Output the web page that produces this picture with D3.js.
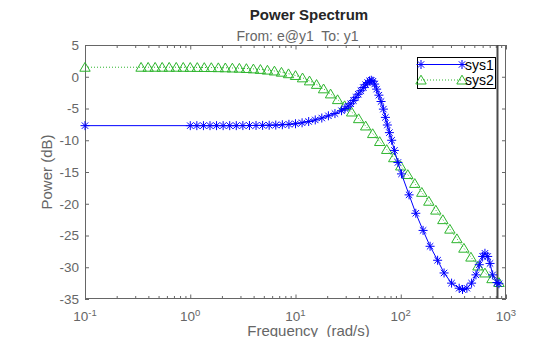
<!DOCTYPE html>
<html><head><meta charset="utf-8">
<script src="https://cdn.jsdelivr.net/npm/d3@7"></script>
<style>body{margin:0;background:#fff}svg{display:block;font-family:"Liberation Sans",Arial,sans-serif}</style>
</head><body><svg id="c" width="560" height="337"></svg>
<script>
// ---- data ----
const freq1 = [0.1, 1.0, 1.155, 1.334, 1.54, 1.778, 2.054, 2.371, 2.738, 3.162, 3.652, 4.217, 4.87, 5.623, 6.494, 7.499, 8.66, 10.0, 11.55, 13.34, 15.4, 17.78, 20.54, 23.71, 27.38, 29.5, 31.62, 33.5, 35.5, 37.5, 39.5, 41.8, 44.1, 46.4, 48.5, 50.5, 52.5, 54.5, 56.5, 59.0, 62.0, 65.0, 68.4, 71.5, 74.6, 78.0, 82.0, 87.0, 94.0, 101.6, 120, 139, 163, 190, 224, 258, 304, 359, 386, 425, 471, 518, 557, 600, 631, 670, 705, 747, 820, 857];
const sys1 = [-7.7, -7.7, -7.7, -7.7, -7.7, -7.7, -7.7, -7.7, -7.7, -7.69, -7.68, -7.67, -7.66, -7.64, -7.61, -7.56, -7.49, -7.4, -7.25, -7.05, -6.8, -6.5, -6.15, -5.8, -5.35, -5.0, -4.65, -4.25, -3.75, -3.25, -2.75, -2.2, -1.7, -1.25, -0.9, -0.65, -0.55, -0.7, -1.15, -1.95, -2.9, -3.9, -5.1, -6.4, -7.6, -8.8, -10.0, -11.6, -13.5, -15.3, -18.6, -21.5, -24.2, -26.7, -28.9, -30.9, -32.5, -33.3, -33.5, -33.3, -32.5, -31.2, -29.6, -28.3, -27.8, -28.3, -29.4, -31.2, -32.4, -32.6];
const freq2 = [0.1, 0.341, 0.398, 0.464, 0.541, 0.631, 0.736, 0.858, 1.0, 1.166, 1.359, 1.585, 1.848, 2.154, 2.512, 2.929, 3.415, 3.981, 4.642, 5.412, 6.31, 7.356, 8.577, 10.0, 11.66, 13.59, 15.85, 18.48, 21.54, 25.12, 29.29, 34.15, 39.81, 46.42, 54.12, 63.1, 73.56, 85.77, 100, 116.6, 135.9, 158.5, 184.8, 215.4, 251.2, 292.9, 341.5, 398.1, 464.2, 541.2, 631, 735.6, 857.7];
const sys2 = [1.5, 1.5, 1.5, 1.5, 1.5, 1.5, 1.5, 1.49, 1.48, 1.47, 1.46, 1.45, 1.43, 1.41, 1.38, 1.35, 1.3, 1.24, 1.16, 1.05, 0.91, 0.72, 0.48, 0.2, -0.17, -0.65, -1.2, -1.9, -2.7, -3.6, -4.55, -5.55, -6.6, -7.75, -8.95, -10.2, -11.45, -12.75, -14.05, -15.4, -16.8, -18.2, -19.6, -21.0, -22.5, -24.0, -25.5, -27.0, -28.4, -29.8, -30.9, -31.8, -32.4];
const seriesNames = ["sys1", "sys2"];
const xMajorTicks = [0.1, 1, 10, 100, 1000];
const xTickExponents = ["-1", "0", "1", "2", "3"];
const yTicks = [5, 0, -5, -10, -15, -20, -25, -30, -35];
const nyquistFreq = 830;
const titleText = "Power Spectrum";
const subtitleText = "From: e@y1  To: y1";
const xLabel = "Frequency  (rad/s)";
const yLabel = "Power (dB)";

// ---- layout ----
const L = 85, R = 506, T = 45, B = 299;
const svg = d3.select("#c");
const x = d3.scaleLog().domain([0.1, 1000]).range([L, R]);
const y = d3.scaleLinear().domain([-35, 5]).range([B, T]);
const axisCol = "#666", textCol = "#666";
const blue = "#0000ff", green = "#2db52d";

svg.append("rect").attr("x", 0).attr("y", 0).attr("width", 560).attr("height", 337).attr("fill", "#fff");
svg.append("rect").attr("x", L).attr("y", T).attr("width", R - L).attr("height", B - T).attr("fill", "#fff");

// minor ticks
const minor = [];
for (let d = -1; d < 3; d++) for (let m = 2; m <= 9; m++) minor.push(m * Math.pow(10, d));

function styleAxis(g) {
  g.select(".domain").remove();
  g.selectAll("line").attr("stroke", axisCol);
  g.selectAll("text").remove();
}
svg.append("g").attr("transform", `translate(0,${B})`).call(d3.axisBottom(x).tickValues(xMajorTicks).tickSize(-4.5)).call(styleAxis);
svg.append("g").attr("transform", `translate(0,${B})`).call(d3.axisBottom(x).tickValues(minor).tickSize(-3)).call(styleAxis);
svg.append("g").attr("transform", `translate(0,${T})`).call(d3.axisTop(x).tickValues(xMajorTicks).tickSize(-4.5)).call(styleAxis);
svg.append("g").attr("transform", `translate(0,${T})`).call(d3.axisTop(x).tickValues(minor).tickSize(-3)).call(styleAxis);
svg.append("g").attr("transform", `translate(${L},0)`).call(d3.axisLeft(y).tickValues(yTicks).tickSize(-4)).call(styleAxis);
svg.append("g").attr("transform", `translate(${R},0)`).call(d3.axisRight(y).tickValues(yTicks).tickSize(-4)).call(styleAxis);

// frame
svg.append("rect").attr("x", L + 0.5).attr("y", T + 0.5).attr("width", R - L - 1).attr("height", B - T - 1)
  .attr("fill", "none").attr("stroke", axisCol).attr("stroke-width", 1);

// y tick labels
svg.append("g").selectAll("text").data(yTicks).join("text")
  .attr("x", L - 6).attr("y", d => y(d)).attr("dy", "0.36em")
  .attr("text-anchor", "end").attr("font-size", 13.5).attr("fill", textCol).text(d => d);

// x tick labels
const xl = svg.append("g").selectAll("text").data(xMajorTicks).join("text")
  .attr("x", (d) => x(d)).attr("y", 321).attr("text-anchor", "middle").attr("font-size", 13.5).attr("fill", textCol);
xl.append("tspan").text("10");
xl.append("tspan").attr("dy", -5.5).attr("font-size", 9.5).text((d, i) => xTickExponents[i]);

// nyquist line
svg.append("line").attr("x1", x(nyquistFreq)).attr("x2", x(nyquistFreq)).attr("y1", T).attr("y2", B)
  .attr("stroke", "#4a4a4a").attr("stroke-width", 2);

// series
const line = d3.line().x(d => x(d[0])).y(d => y(d[1]));
const d1 = freq1.map((f, i) => [f, sys1[i]]);
const d2 = freq2.map((f, i) => [f, sys2[i]]);
const starPath = "M-4.5,0H4.5M0,-4.5V4.5M-3.2,-3.2L3.2,3.2M-3.2,3.2L3.2,-3.2";
const triPath = "M0,-4.8L5.2,4L-5.2,4Z";

svg.append("path").datum(d2).attr("d", line).attr("fill", "none").attr("stroke", green).attr("stroke-width", 1).attr("stroke-dasharray", "1,2");
svg.append("g").selectAll("path").data(d2).join("path")
  .attr("transform", d => `translate(${x(d[0])},${y(d[1])})`).attr("d", triPath)
  .attr("fill", "none").attr("stroke", green).attr("stroke-width", 1);

svg.append("path").datum(d1).attr("d", line).attr("fill", "none").attr("stroke", blue).attr("stroke-width", 1);
svg.append("g").selectAll("path").data(d1).join("path")
  .attr("transform", d => `translate(${x(d[0])},${y(d[1])})`).attr("d", starPath)
  .attr("fill", "none").attr("stroke", blue).attr("stroke-width", 1);

// legend
const lg = svg.append("g");
lg.append("rect").attr("x", 417.5).attr("y", 57.5).attr("width", 78).attr("height", 31)
  .attr("fill", "#fff").attr("stroke", "#000").attr("stroke-width", 1);
const legendItems = [
  {name: seriesNames[0], col: blue, dash: null, mk: starPath, y: 64.5},
  {name: seriesNames[1], col: green, dash: "1,2", mk: triPath, y: 80}
];
legendItems.forEach(it => {
  lg.append("line").attr("x1", 421).attr("x2", 462).attr("y1", it.y).attr("y2", it.y)
    .attr("stroke", it.col).attr("stroke-width", 1).attr("stroke-dasharray", it.dash);
  [421, 462].forEach(px => lg.append("path").attr("transform", `translate(${px},${it.y})`).attr("d", it.mk)
    .attr("fill", "none").attr("stroke", it.col).attr("stroke-width", 1));
  lg.append("text").attr("x", 465).attr("y", it.y).attr("dy", "0.36em").attr("font-size", 14).attr("fill", "#000").text(it.name);
});

// titles and labels
svg.append("text").attr("x", 309).attr("y", 20).attr("text-anchor", "middle").attr("font-size", 15)
  .attr("font-weight", "bold").attr("fill", "#262626").text(titleText);
svg.append("text").attr("x", 297.5).attr("y", 41).attr("text-anchor", "middle").attr("font-size", 14)
  .attr("fill", textCol).attr("xml:space", "preserve").style("white-space", "pre").text(subtitleText);
svg.append("text").attr("x", 308.5).attr("y", 335.5).attr("text-anchor", "middle").attr("font-size", 15)
  .attr("fill", textCol).style("white-space", "pre").text(xLabel);
svg.append("text").attr("transform", "translate(51.5,172) rotate(-90)").attr("text-anchor", "middle").attr("font-size", 15)
  .attr("fill", textCol).text(yLabel);
</script></body></html>
